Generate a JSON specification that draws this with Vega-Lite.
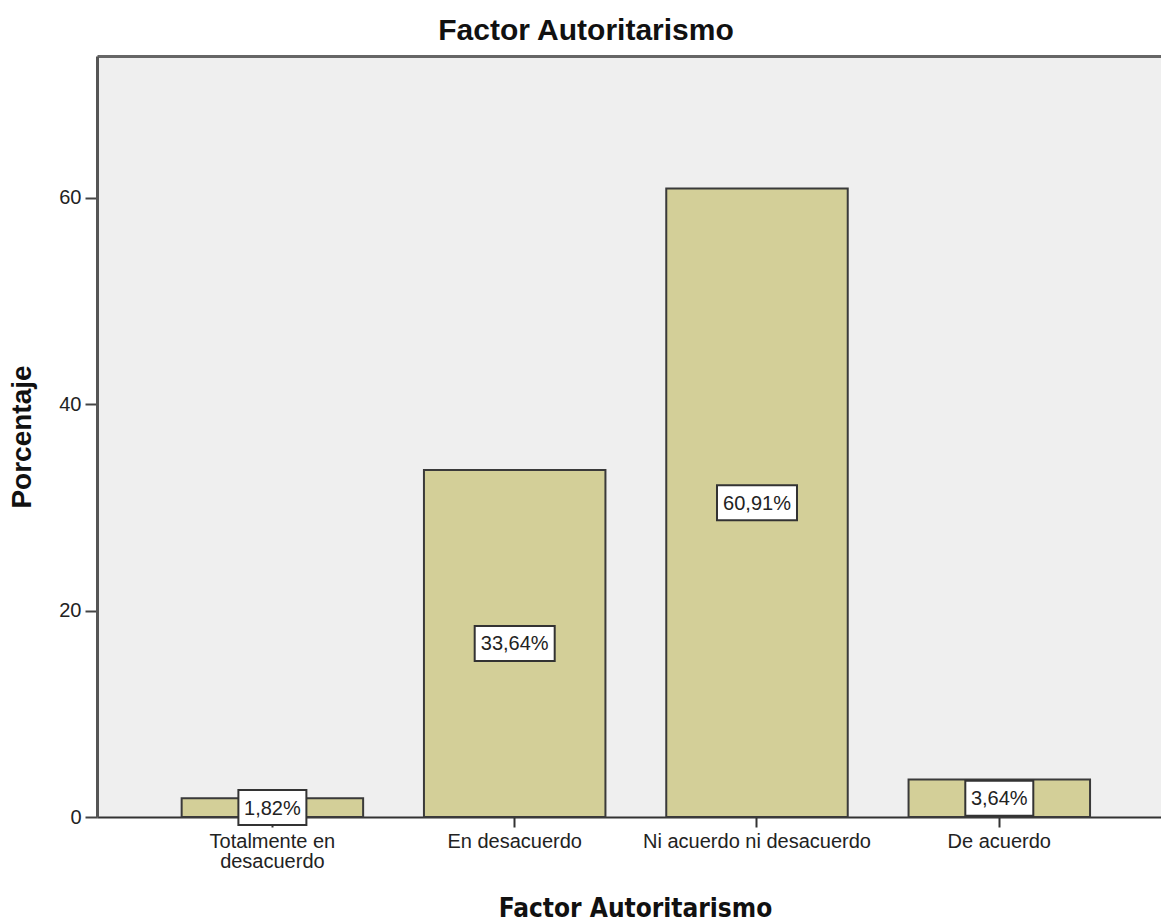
{
  "$schema": "https://vega.github.io/schema/vega-lite/v6.json",
  "width": 1064,
  "height": 761,
  "autosize": {"type": "none"},
  "padding": {"left": 97, "top": 56, "right": 0, "bottom": 104},
  "background": "white",
  "title": {
    "text": "Factor Autoritarismo",
    "font": "Liberation Sans",
    "fontSize": 30,
    "fontWeight": "bold",
    "color": "#111111",
    "anchor": "middle",
    "frame": "group",
    "dx": -43,
    "offset": -14,
    "baseline": "alphabetic"
  },
  "data": {
    "values": [
      {"respuesta": "Totalmente en desacuerdo", "pct": 1.82},
      {"respuesta": "En desacuerdo", "pct": 33.64},
      {"respuesta": "Ni acuerdo ni desacuerdo", "pct": 60.91},
      {"respuesta": "De acuerdo", "pct": 3.64}
    ]
  },
  "layer": [
    {
      "mark": {"type": "bar", "fill": "#d3cf98", "stroke": "#3a3a3a", "strokeWidth": 2},
      "encoding": {
        "x": {
          "field": "respuesta",
          "type": "nominal",
          "sort": null,
          "scale": {"paddingInner": 0.251, "paddingOuter": 0.3211, "align": 0.544, "round": false},
          "axis": {
            "title": "Factor Autoritarismo",
            "labelAngle": 0,
            "labelLimit": 400,
            "tickSize": 10,
            "tickWidth": 2,
            "tickColor": "#333333",
            "domainColor": "#333333",
            "domainWidth": 2,
            "labelFont": "Liberation Sans",
            "labelFontSize": 20,
            "labelColor": "#222222",
            "labelPadding": 4,
            "labelLineHeight": 20,
            "labelExpr": "datum.value == 'Totalmente en desacuerdo' ? ['Totalmente en', 'desacuerdo'] : datum.label",
            "titleFont": "DejaVu Sans Condensed, DejaVu Sans",
            "titleFontWeight": "bold",
            "titleFontSize": 26,
            "titleColor": "#111111",
            "titleX": 538,
            "titleY": 99,
            "titleBaseline": "alphabetic"
          }
        },
        "y": {
          "field": "pct",
          "type": "quantitative",
          "scale": {"domain": [0, 73.76], "nice": false},
          "axis": {
            "title": "Porcentaje",
            "values": [0, 20, 40, 60],
            "tickSize": 12,
            "tickWidth": 2,
            "tickColor": "#444444",
            "domainColor": "#555555",
            "domainWidth": 3,
            "labelFont": "Liberation Sans",
            "labelFontSize": 20,
            "labelColor": "#222222",
            "labelPadding": 4,
            "titleFont": "Liberation Sans",
            "titleFontSize": 28,
            "titleFontWeight": "bold",
            "titleColor": "#111111",
            "titlePadding": 22
          }
        }
      }
    },
    {
      "mark": {"type": "point", "filled": true, "fill": "white", "stroke": "#333333", "strokeWidth": 2, "opacity": 1},
      "encoding": {
        "x": {
          "field": "respuesta",
          "type": "nominal",
          "sort": null,
          "axis": {"orient": "top", "title": null, "labels": false, "ticks": false, "domain": true, "domainColor": "#666666", "domainWidth": 3, "minExtent": 0, "maxExtent": 0}
        },
        "y": {"field": "pct", "type": "quantitative", "scale": {"domain": [0, 147.52], "nice": false}, "axis": null},
        "shape": {
          "condition": {"test": "datum.pct < 10", "value": "M-1,-0.5147H1V0.5147H-1Z"},
          "value": "M-1,-0.4375H1V0.4375H-1Z"
        },
        "size": {"condition": {"test": "datum.pct < 10", "value": 4624}, "value": 6400}
      }
    },
    {
      "mark": {
        "type": "text",
        "font": "Liberation Sans",
        "fontSize": 20,
        "color": "#222222",
        "align": "center",
        "baseline": "middle",
        "dy": 1,
        "text": {"expr": "replace(format(datum.pct, '.2f'), '.', ',') + '%'"}
      },
      "encoding": {
        "x": {"field": "respuesta", "type": "nominal", "sort": null, "axis": null},
        "y": {"field": "pct", "type": "quantitative", "scale": {"domain": [0, 147.52], "nice": false}, "axis": null}
      }
    }
  ],
  "resolve": {"scale": {"y": "independent"}, "axis": {"x": "independent"}},
  "config": {
    "view": {"stroke": null, "fill": "#efefef"},
    "axis": {"grid": false}
  }
}
